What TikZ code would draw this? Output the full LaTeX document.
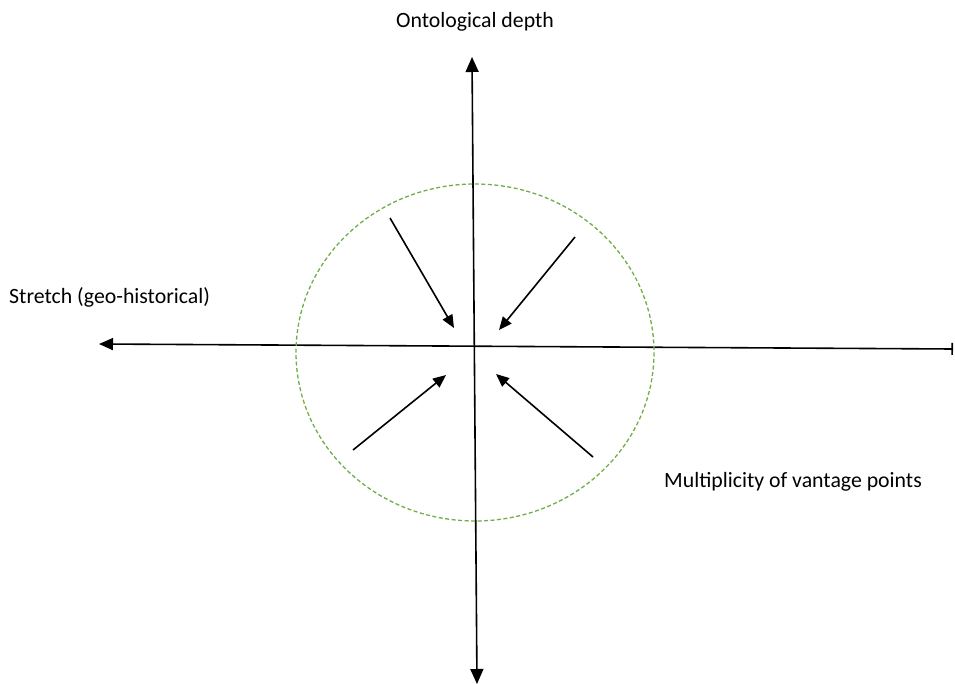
\documentclass[tikz,border=0pt]{standalone}
\usepackage{fontspec}
\setmainfont{Carlito}
\usetikzlibrary{arrows.meta}
\definecolor{dashgreen}{HTML}{70AD47}
\begin{document}
\begin{tikzpicture}[x=1pt, y=-1pt, line join=round, font=\fontsize{21.8}{26}\selectfont,
  >={Triangle[length=13pt,width=11pt]},
  axis/.style={line width=1.6pt},
  inward/.style={line width=1.6pt, ->}]
\useasboundingbox (0,0) rectangle (955,684);
% axes
\coordinate (top) at (472,57);
\coordinate (bottom) at (477,684);
\coordinate (left) at (99,344);
\coordinate (right) at (953,349);
\draw[axis, {Triangle[length=15pt,width=13pt]}-{Triangle[length=15pt,width=13pt]}] (bottom) -- (top);
\draw[axis, {Triangle[length=14pt,width=12pt]}-{Bar[width=12pt]}] (left) -- (right);
% circle
\coordinate (centre) at (475,352.5);
\draw[dashgreen, line width=1.3pt, dash pattern=on 4pt off 2.5pt] (centre) ellipse [x radius=179, y radius=168.5];
% inward arrows
\coordinate (a1) at (390,218); \coordinate (b1) at (454,328);
\coordinate (a2) at (575,237); \coordinate (b2) at (499,330);
\coordinate (a3) at (353,450); \coordinate (b3) at (446,375);
\coordinate (a4) at (593,457); \coordinate (b4) at (496,374);
\foreach \i in {1,...,4} \draw[inward] (a\i) -- (b\i);
% labels
\node (depth) at (475,22) {Ontological depth};
\node[anchor=west, inner sep=0pt] (stretch) at (9,297) {Stretch (geo-historical)};
\node[anchor=west, inner sep=0pt] (vantage) at (664,482) {Multiplicity of vantage points};
\end{tikzpicture}
\end{document}
